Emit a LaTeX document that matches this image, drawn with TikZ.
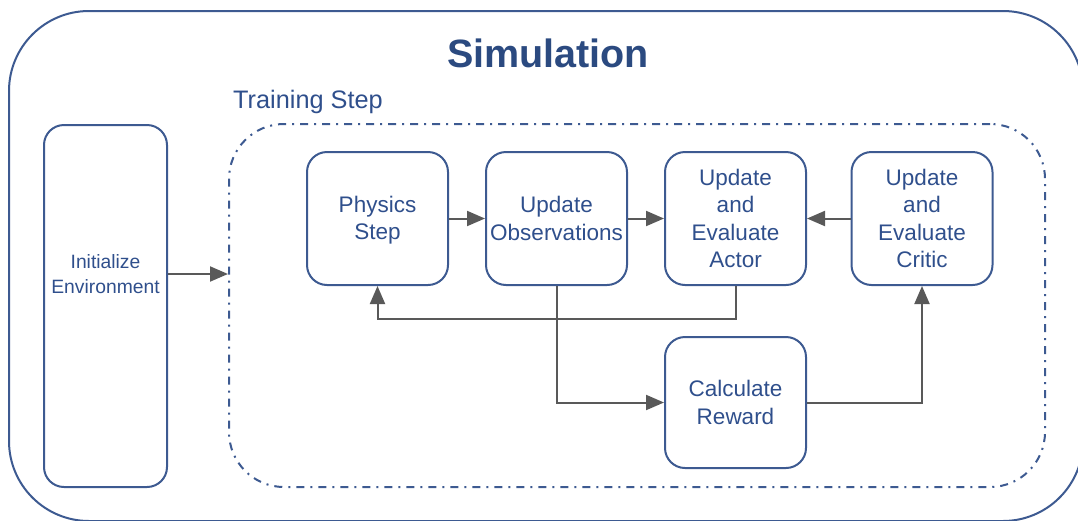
\documentclass[tikz,border=0pt]{standalone}
\usepackage{fontspec}
\setmainfont{Liberation Sans}
\usetikzlibrary{arrows.meta}
\definecolor{boxblue}{HTML}{3D5A91}
\definecolor{txtblue}{HTML}{2F4F8C}
\definecolor{titleblue}{HTML}{2B4A80}
\definecolor{arrgray}{HTML}{595959}
\tikzset{
  stepbox/.style={draw=boxblue, line width=2pt, rounded corners=20pt, minimum width=141pt, minimum height=133pt, align=center, text=txtblue, font=\fontsize{22.5}{27.5}\selectfont, inner sep=0pt},
  arr/.style={draw=arrgray, line width=2pt, -{Triangle[length=18pt,width=15pt]}},
}
\begin{document}
\begin{tikzpicture}[x=1pt,y=-1pt]
\useasboundingbox (0,0) rectangle (1078,520);
\clip (0,0) rectangle (1078,520);
% outer simulation frame
\node[draw=boxblue, line width=2pt, rounded corners=80pt, minimum width=1074pt, minimum height=510pt, inner sep=0pt] (outer) at (546,266) {};
\node[anchor=base, text=titleblue, font=\fontsize{39.5}{44}\selectfont\bfseries] (title) at (548,67) {Simulation};
% training step frame
\node[draw=boxblue, line width=2pt, rounded corners=55pt, dash pattern=on 8pt off 6pt on 2pt off 6pt, minimum width=816pt, minimum height=363pt, inner sep=0pt] (train) at (637,305.5) {};
\node[anchor=base west, text=txtblue, font=\fontsize{25.3}{30}\selectfont, inner sep=0pt] (trainlbl) at (233,108) {Training Step};
% initialize
\node[draw=boxblue, line width=2pt, rounded corners=20pt, minimum width=123pt, minimum height=362pt, inner sep=0pt] (init) at (105.5,306) {};
\node[align=center, text=txtblue, font=\fontsize{19.3}{25}\selectfont, inner sep=0pt] (initlbl) at (105.5,274) {Initialize\\Environment};
% steps
\node[stepbox] (phys) at (377.5,218.5) {\strut Physics\\Step};
\node[stepbox] (obs) at (556.5,218.5) {Update\\Observations};
\node[stepbox] (actor) at (735.5,218.5) {Update\\and\\Evaluate\\Actor};
\node[stepbox] (critic) at (922,218.5) {Update\\and\\Evaluate\\Critic};
\node[stepbox, minimum height=131pt] (reward) at (735.5,402.5) {Calculate\\Reward};
% connectors
\draw[arr] (initlbl.east -| init.east) -- (initlbl.east -| train.west);
\draw[arr] (phys) -- (obs);
\draw[arr] (obs) -- (actor);
\draw[arr] (critic) -- (actor);
\draw[arr] (actor.south) -- ++(0,33) -| (phys.south);
\draw[arr] (obs.south) |- (reward.west);
\draw[arr] (reward.east) -| (critic.south);
\end{tikzpicture}
\end{document}
